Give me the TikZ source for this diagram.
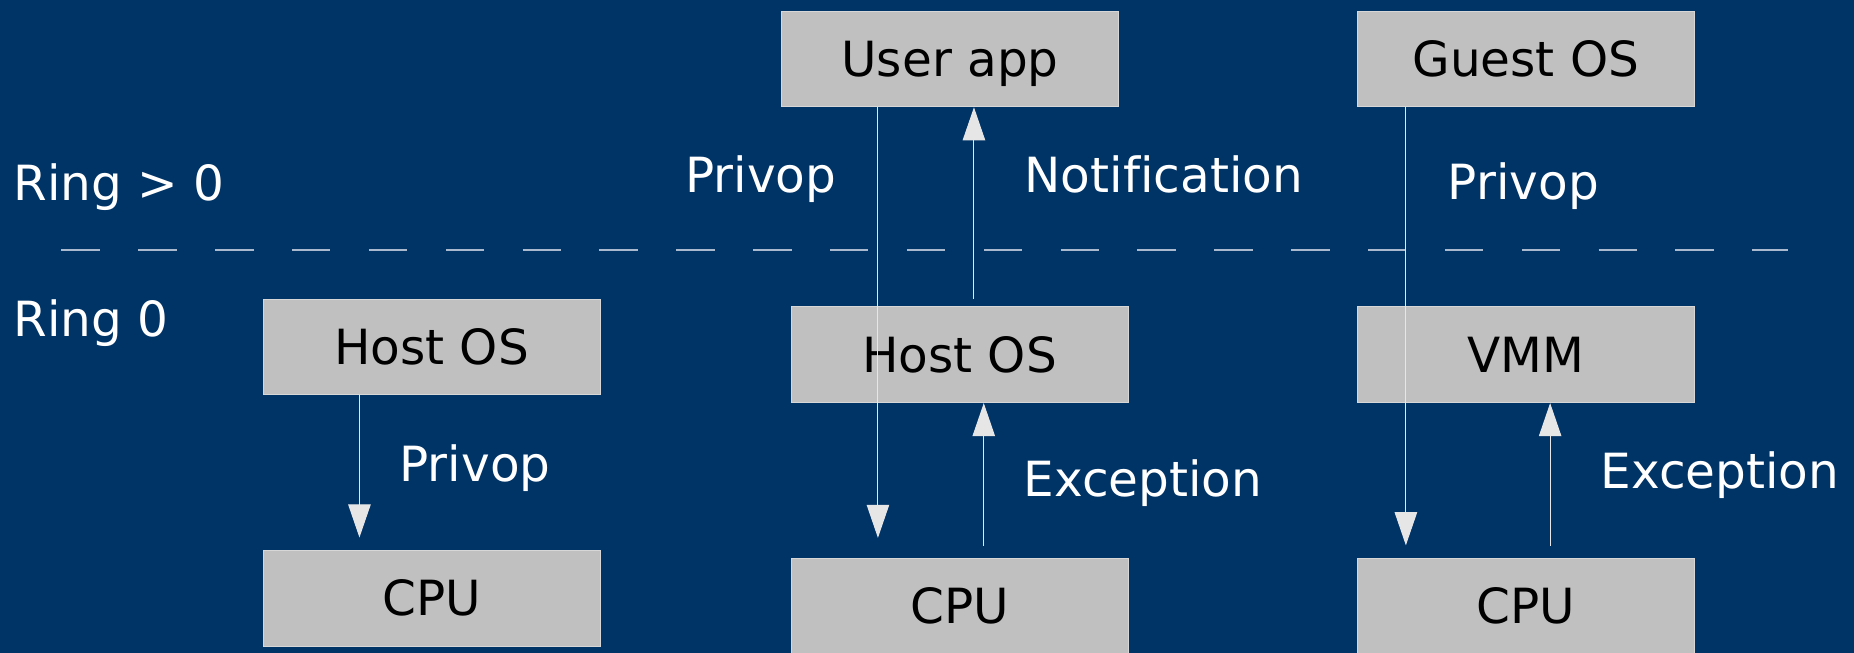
\documentclass[tikz,border=0pt]{standalone}
\usepackage{fontspec}
\setmainfont[Ligatures=NoCommon]{DejaVu Sans}
\usetikzlibrary{arrows.meta}
\definecolor{bg}{RGB}{0,51,102}
\definecolor{boxfill}{RGB}{192,192,192}
\definecolor{boxline}{RGB}{215,215,215}
\definecolor{arrcol}{RGB}{230,230,230}
\definecolor{dashcol}{RGB}{170,185,205}
\tikzset{
  box/.style={draw=boxline, line width=0.8pt, fill=boxfill, minimum width=285pt, minimum height=81pt,
    inner sep=0pt, font=\fontsize{41}{49}\selectfont, text=black, text height=29.9pt, text depth=0pt},
  lbl/.style={anchor=west, inner sep=0pt, font=\fontsize{41}{49}\selectfont, text=white,
    text height=29.9pt, text depth=0pt},
  conn/.style={draw=arrcol, line width=0.85pt, -{Triangle[length=28pt,width=19pt,fill=arrcol]}},
  ringline/.style={draw=dashcol, line width=1pt, dash pattern=on 32.5pt off 32.5pt}
}
\begin{document}
\begin{tikzpicture}[x=1pt,y=-1pt]
\fill[bg] (0,0) rectangle (1568,552);
\useasboundingbox (0,0) rectangle (1568,552);
% boxes
\node[box] (hostL) at (365,293.5) {Host OS};
\node[box] (cpuL)  at (365,506) {CPU};
\node[box] (user)  at (803.5,49.8) {User app};
\node[box] (hostM) at (811.5,300) {Host OS};
\node[box] (cpuM)  at (811.5,512.5) {CPU};
\node[box] (guest) at (1290.5,49.8) {Guest OS};
\node[box] (vmm)   at (1290.5,300) {VMM};
\node[box] (cpuR)  at (1290.5,512.5) {CPU};
% ring separator
\coordinate (dl) at (52,211.5);
\coordinate (dr) at (1512,211.5);
\draw[ringline] (dl) -- (dr);
% labels
\node[lbl] (r1) at (11.2,155) {Ring > 0};
\node[lbl] (r0) at (11.2,270) {Ring 0};
\node[lbl] (p1) at (579.5,148) {Privop};
\node[lbl] (n1) at (866.4,148) {Notification};
\node[lbl] (p2) at (1224.3,154) {Privop};
\node[lbl] (p3) at (337.7,392) {Privop};
\node[lbl] (e1) at (865.6,404.6) {Exception};
\node[lbl] (e2) at (1353.4,398) {Exception};
% connectors
\draw[conn, shorten >=10.5pt] ([xshift=-61pt]hostL.south) -- ([xshift=-61pt]cpuL.north);
\draw[conn, shorten >=16.7pt] ([xshift=-61pt]user.south) -- ([xshift=-69pt]cpuM.north);
\draw[conn, shorten <=6.5pt] ([xshift=12.2pt]hostM.north) -- ([xshift=20.2pt]user.south);
\draw[conn, shorten <=9.7pt] ([xshift=20.5pt]cpuM.north) -- ([xshift=20.5pt]hostM.south);
\draw[conn, shorten >=10.4pt] ([xshift=-101.5pt]guest.south) -- ([xshift=-101.5pt]cpuR.north);
\draw[conn, shorten <=10pt] ([xshift=20.5pt]cpuR.north) -- ([xshift=20.5pt]vmm.south);
\end{tikzpicture}
\end{document}
